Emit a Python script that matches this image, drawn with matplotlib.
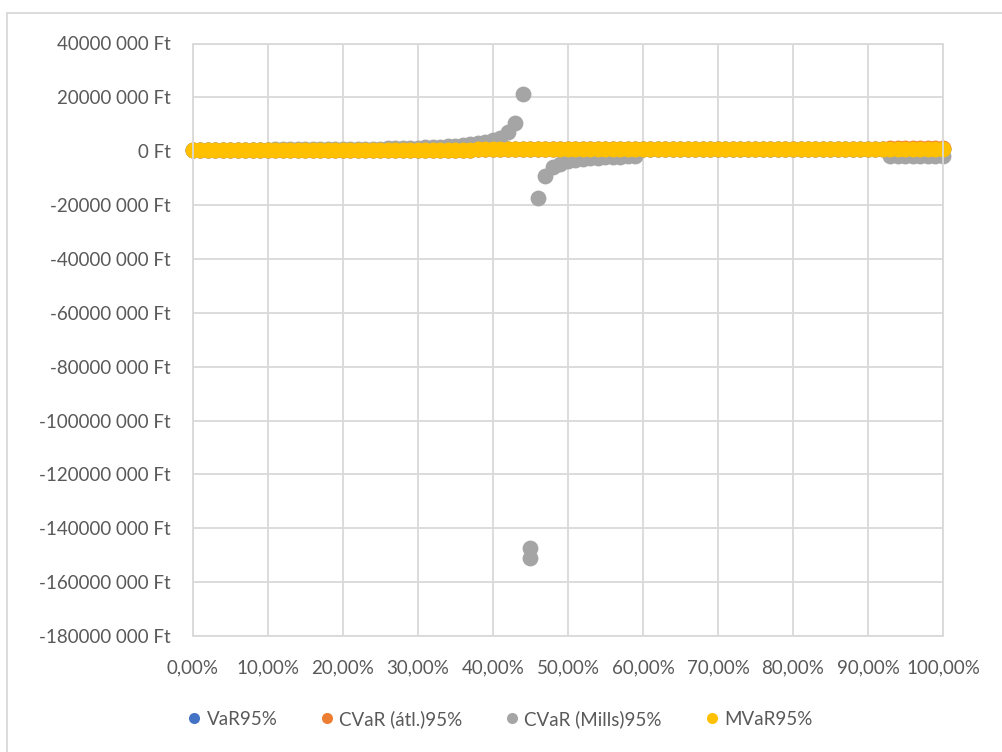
import matplotlib
matplotlib.use("Agg")
import matplotlib.pyplot as plt
from matplotlib.lines import Line2D
from matplotlib.ticker import FuncFormatter, MultipleLocator

# Portfolio weight grid (share of the first asset)
weights = [i / 100 for i in range(101)]

# Risk measures in million Ft, one value per weight
var95_mft = [
    0.30, 0.30, 0.30, 0.30, 0.30, 0.30, 0.30, 0.30, 0.30, 0.30,
    0.30, 0.30, 0.30, 0.30, 0.30, 0.30, 0.30, 0.30, 0.30, 0.30,
    0.30, 0.30, 0.30, 0.30, 0.30, 0.30, 0.30, 0.30, 0.30, 0.30,
    0.30, 0.30, 0.30, 0.30, 0.30, 0.30, 0.30, 0.30, 0.80, 0.80,
    0.80, 0.80, 0.80, 0.80, 0.80, 0.80, 0.80, 0.80, 0.80, 0.80,
    0.80, 0.80, 0.80, 0.80, 0.80, 0.80, 0.80, 0.80, 0.80, 0.80,
    0.80, 0.80, 0.80, 0.80, 0.80, 0.80, 0.80, 0.80, 0.80, 0.80,
    0.80, 0.80, 0.80, 0.80, 0.80, 0.80, 0.80, 0.80, 0.80, 0.80,
    0.80, 0.80, 0.80, 0.80, 0.80, 0.80, 0.80, 0.80, 0.80, 0.80,
    0.80, 0.80, 0.80, 0.80, 0.80, 0.80, 0.80, 0.80, 0.80, 0.80,
    0.80,
]

cvar_avg95_mft = [
    0.40, 0.40, 0.40, 0.40, 0.40, 0.40, 0.40, 0.40, 0.40, 0.40,
    0.40, 0.40, 0.40, 0.40, 0.40, 0.40, 0.40, 0.40, 0.40, 0.40,
    0.40, 0.40, 0.40, 0.40, 0.40, 0.40, 0.40, 0.40, 0.40, 0.40,
    0.40, 0.40, 0.40, 0.40, 0.40, 0.40, 0.40, 0.40, 0.90, 0.90,
    0.90, 0.90, 0.90, 0.90, 0.90, 0.90, 0.90, 0.90, 0.90, 0.90,
    0.90, 0.90, 0.90, 0.90, 0.90, 0.90, 0.90, 0.90, 0.90, 0.90,
    0.90, 0.90, 0.90, 0.90, 0.90, 0.90, 0.90, 0.90, 0.90, 0.90,
    0.90, 0.90, 0.90, 0.90, 0.90, 0.90, 0.90, 0.90, 0.90, 0.90,
    0.90, 0.90, 0.90, 0.90, 0.90, 0.90, 0.90, 0.90, 0.90, 0.90,
    0.90, 0.90, 0.90, 1.35, 1.35, 1.35, 1.35, 1.35, 1.35, 1.35,
    1.35,
]

# The Mills-ratio CVaR has two evaluations at 45 %
mills_weights = [
    0.00, 0.01, 0.02, 0.03, 0.04, 0.05, 0.06, 0.07, 0.08, 0.09,
    0.10, 0.11, 0.12, 0.13, 0.14, 0.15, 0.16, 0.17, 0.18, 0.19,
    0.20, 0.21, 0.22, 0.23, 0.24, 0.25, 0.26, 0.27, 0.28, 0.29,
    0.30, 0.31, 0.32, 0.33, 0.34, 0.35, 0.36, 0.37, 0.38, 0.39,
    0.40, 0.41, 0.42, 0.43, 0.44, 0.45, 0.45, 0.46, 0.47, 0.48,
    0.49, 0.50, 0.51, 0.52, 0.53, 0.54, 0.55, 0.56, 0.57, 0.58,
    0.59, 0.60, 0.61, 0.62, 0.63, 0.64, 0.65, 0.66, 0.67, 0.68,
    0.69, 0.70, 0.71, 0.72, 0.73, 0.74, 0.75, 0.76, 0.77, 0.78,
    0.79, 0.80, 0.81, 0.82, 0.83, 0.84, 0.85, 0.86, 0.87, 0.88,
    0.89, 0.90, 0.91, 0.92, 0.93, 0.94, 0.95, 0.96, 0.97, 0.98,
    0.99, 1.00,
]
cvar_mills95_mft = [
    0.30, 0.30, 0.32, 0.32, 0.34, 0.34, 0.36, 0.36, 0.38, 0.38,
    0.40, 0.80, 0.80, 0.82, 0.82, 0.84, 0.84, 0.86, 0.86, 0.88,
    0.90, 0.92, 0.94, 0.96, 0.98, 1.00, 1.02, 1.05, 1.08, 1.20,
    1.30, 1.40, 1.50, 1.65, 1.80, 2.00, 2.25, 2.55, 2.95, 3.50,
    4.10, 5.00, 7.20, 10.30, 21.40, -147.50, -151.00, -17.20, -9.20, -6.00,
    -4.60, -3.70, -3.20, -2.90, -2.60, -2.40, -2.25, -2.10, -2.00, -1.90,
    -1.80, 0.80, 0.80, 0.80, 0.80, 0.80, 0.80, 0.80, 0.80, 0.80,
    0.80, 0.80, 0.80, 0.80, 0.80, 0.80, 0.80, 0.80, 0.80, 0.80,
    0.80, 0.80, 0.80, 0.80, 0.80, 0.80, 0.80, 0.80, 0.80, 0.80,
    0.80, 0.80, 0.80, 0.80, -1.70, -1.70, -1.70, -1.70, -1.70, -1.70,
    -1.70, -1.70,
]

mvar95_mft = [
    0.40, 0.40, 0.40, 0.40, 0.40, 0.40, 0.40, 0.40, 0.40, 0.40,
    0.40, 0.40, 0.40, 0.40, 0.40, 0.40, 0.40, 0.40, 0.40, 0.40,
    0.40, 0.40, 0.40, 0.40, 0.40, 0.40, 0.40, 0.40, 0.40, 0.40,
    0.40, 0.40, 0.40, 0.40, 0.40, 0.40, 0.40, 0.40, 0.90, 0.90,
    0.90, 0.90, 0.90, 0.90, 0.90, 0.90, 0.90, 0.90, 0.90, 0.90,
    0.90, 0.90, 0.90, 0.90, 0.90, 0.90, 0.90, 0.90, 0.90, 0.90,
    0.90, 0.90, 0.90, 0.90, 0.90, 0.90, 0.90, 0.90, 0.90, 0.90,
    0.90, 0.90, 0.90, 0.90, 0.90, 0.90, 0.90, 0.90, 0.90, 0.90,
    0.90, 0.90, 0.90, 0.90, 0.90, 0.90, 0.90, 0.90, 0.90, 0.90,
    0.90, 0.90, 0.90, 0.90, 0.90, 0.90, 0.90, 0.90, 0.90, 0.90,
    0.90,
]

series_names = ["VaR95%", "CVaR (átl.)95%", "CVaR (Mills)95%", "MVaR95%"]
series_colors = ["#4472C4", "#ED7D31", "#A5A5A5", "#FFC000"]

TEXT = "#595959"
GRID = "#D9D9D9"
FONT = "Lato"

W, H = 1003, 752
fig = plt.figure(figsize=(W / 100, H / 100), dpi=100)
fig.patch.set_facecolor("white")

# outer chart frame (left and top edges)
fig.add_artist(Line2D([7 / W, 7 / W], [0, 1 - 13 / H], transform=fig.transFigure,
                      color=GRID, lw=1.3))
fig.add_artist(Line2D([7 / W, 1002 / W], [1 - 13 / H, 1 - 13 / H], transform=fig.transFigure,
                      color=GRID, lw=1.3))

left, right, top, bottom = 193, 943, 43.5, 636
ax = fig.add_axes([left / W, 1 - bottom / H, (right - left) / W, (bottom - top) / H])

data = [
    (weights, var95_mft),
    (weights, cvar_avg95_mft),
    (mills_weights, cvar_mills95_mft),
    (weights, mvar95_mft),
]
for (xs, ys), name, col in zip(data, series_names, series_colors):
    ax.plot(xs, [v * 1e6 for v in ys], linestyle="none", marker="o", ms=11.4,
            mfc=col, mec="none", label=name, clip_on=False)

ax.set_xlim(0, 1)
ax.set_ylim(-180e6, 40e6)
ax.xaxis.set_major_locator(MultipleLocator(0.1))
ax.yaxis.set_major_locator(MultipleLocator(20e6))


def ft_label(v, _pos):
    v = int(round(v))
    if v == 0:
        return "0 Ft"
    sign = "-" if v < 0 else ""
    a = abs(v)
    return f"{sign}{a // 1000} {a % 1000:03d} Ft"


def pct_label(v, _pos):
    return f"{v * 100:.2f}".replace(".", ",") + "%"


ax.yaxis.set_major_formatter(FuncFormatter(ft_label))
ax.xaxis.set_major_formatter(FuncFormatter(pct_label))

ax.grid(True, color=GRID, lw=1.3)
ax.set_axisbelow(True)
for sp in ax.spines.values():
    sp.set_color(GRID)
    sp.set_linewidth(1.3)

ax.tick_params(axis="both", length=0, labelcolor=TEXT, labelsize=13.5)
ax.tick_params(axis="y", pad=16)
ax.tick_params(axis="x", pad=17)
for lab in ax.get_xticklabels() + ax.get_yticklabels():
    lab.set_fontfamily(FONT)

leg = fig.legend(loc="center", bbox_to_anchor=(500 / W, 1 - 719 / H), ncol=4,
                 frameon=False, markerscale=0.7, handlelength=0.7,
                 handletextpad=0.3, columnspacing=2.3,
                 prop={"family": FONT, "size": 13.5})
for t in leg.get_texts():
    t.set_color(TEXT)

fig.savefig("out.png", dpi=100, facecolor="white")
